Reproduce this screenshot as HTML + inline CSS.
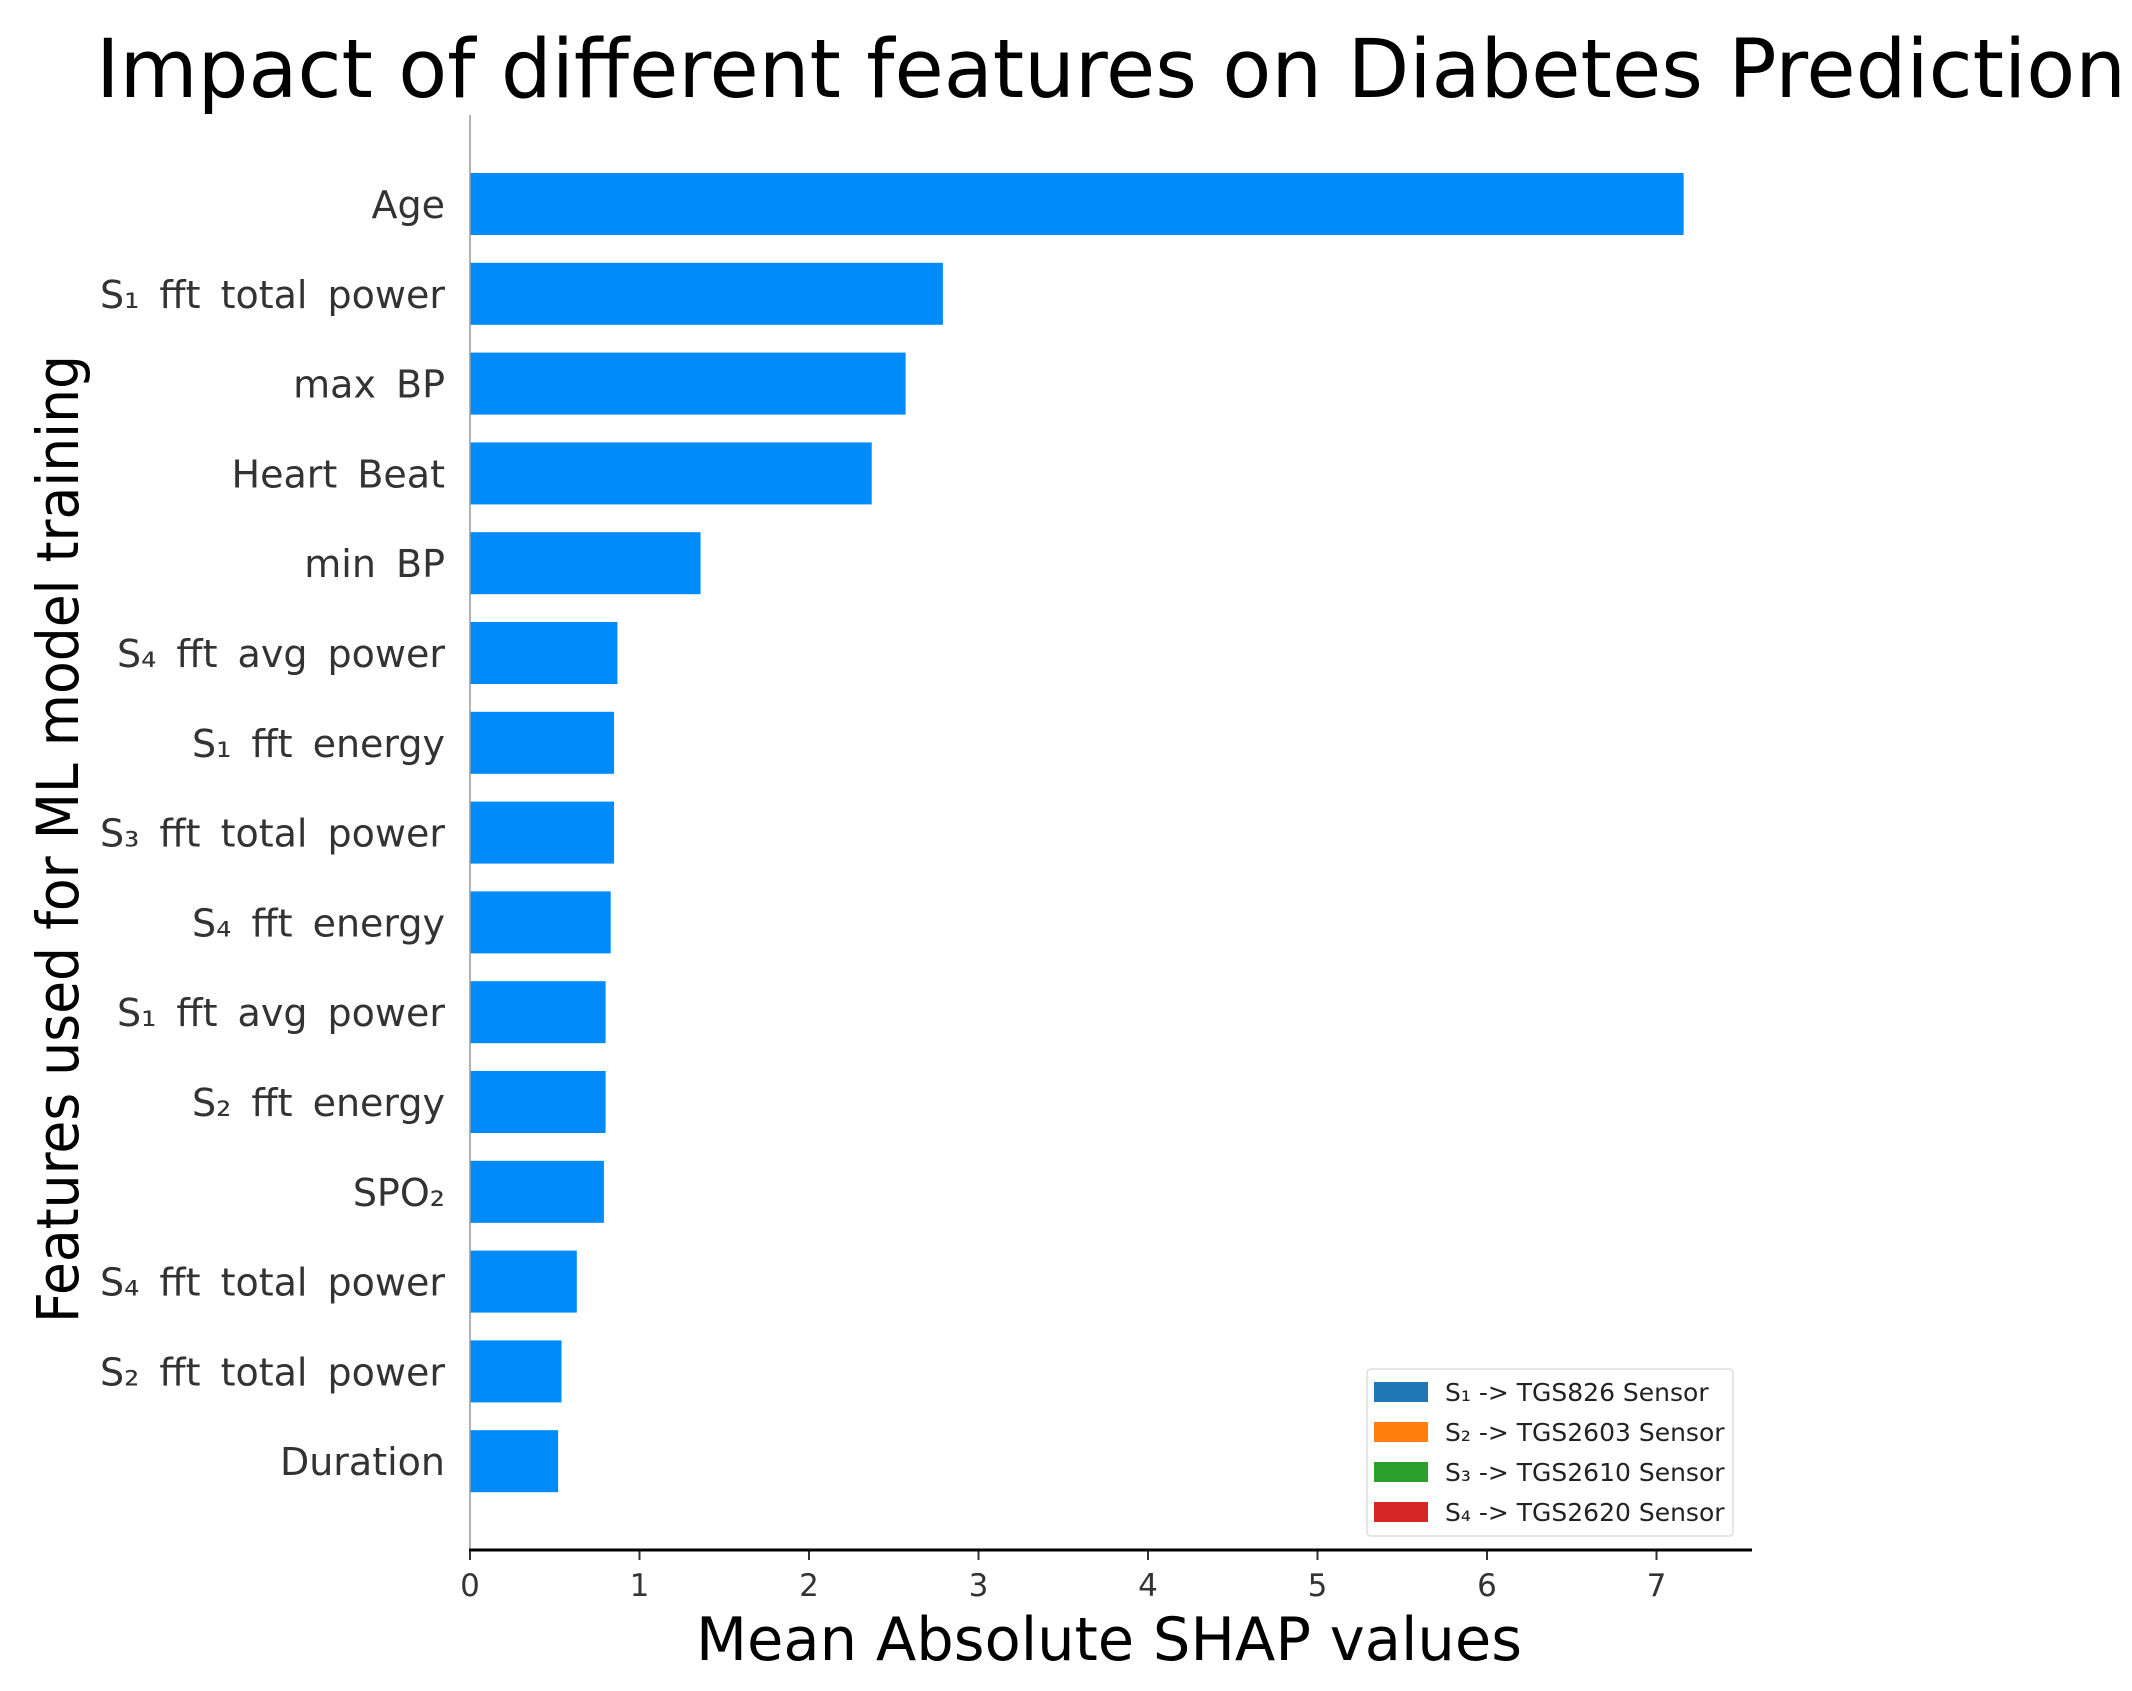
<!DOCTYPE html>
<html><head><meta charset="utf-8"><style>
html,body{margin:0;padding:0;background:#fff;}
svg{display:block;font-family:"DejaVu Sans","Liberation Sans",sans-serif;}
</style></head><body>
<svg id="chart" width="2132" height="1691" viewBox="0 0 2132 1691" xmlns="http://www.w3.org/2000/svg">
<text x="96" y="97" font-size="81" fill="#000" textLength="2030" lengthAdjust="spacingAndGlyphs">Impact of different features on Diabetes Prediction</text>
<g id="bars"></g>
<g id="ylabels"></g>
<g id="xticks"></g>
<line x1="470" y1="115" x2="470" y2="1550" stroke="#999" stroke-width="1.5"/>
<line x1="469" y1="1550" x2="1752" y2="1550" stroke="#000" stroke-width="3"/>
<text x="1109" y="1660" font-size="60" text-anchor="middle" fill="#000" textLength="826" lengthAdjust="spacingAndGlyphs">Mean Absolute SHAP values</text>
<text transform="translate(78,839) rotate(-90)" x="0" y="0" font-size="58" text-anchor="middle" fill="#000" textLength="968" lengthAdjust="spacingAndGlyphs">Features used for ML model training</text>
<g>
<rect x="1367" y="1369" width="366" height="167" rx="4" fill="#fff" stroke="#ddd" stroke-width="1.5"/>
<g id="legend-entries"></g>
</g>
</svg>
<script>
const categories = ["Age","S₁ fft total power","max BP","Heart Beat","min BP","S₄ fft avg power","S₁ fft energy","S₃ fft total power","S₄ fft energy","S₁ fft avg power","S₂ fft energy","SPO₂","S₄ fft total power","S₂ fft total power","Duration"];
const values = [7.16,2.79,2.57,2.37,1.36,0.87,0.85,0.85,0.83,0.80,0.80,0.79,0.63,0.54,0.52];
const xTicks = [0,1,2,3,4,5,6,7];
const legendLabels = ["S₁ -> TGS826 Sensor","S₂ -> TGS2603 Sensor","S₃ -> TGS2610 Sensor","S₄ -> TGS2620 Sensor"];
const legendColors = ["#1f77b4","#ff7f0e","#2ca02c","#d62728"];

const NS="http://www.w3.org/2000/svg";
const x0=470, unit=169.5;
const xScale=v=>x0+v*unit;
const yScale=i=>204+i*89.8;
const barH=62;
const bars=document.getElementById('bars');
const yl=document.getElementById('ylabels');
categories.forEach((c,i)=>{
  const r=document.createElementNS(NS,'rect');
  
  
  r.setAttribute('x',xScale(0));
  r.setAttribute('y',yScale(i)-barH/2);
  r.setAttribute('width',xScale(values[i])-xScale(0));
  r.setAttribute('height',barH);
  r.setAttribute('fill','#008bfb');
  bars.appendChild(r);
  const t=document.createElementNS(NS,'text');
  
  
  t.setAttribute('x',445);
  t.setAttribute('y',yScale(i)+14);
  t.setAttribute('font-size','38');
  t.setAttribute('text-anchor','end');
  t.setAttribute('fill','#333');
  t.setAttribute('word-spacing','8');
  t.textContent=c;
  yl.appendChild(t);
});
const xt=document.getElementById('xticks');
xTicks.forEach(v=>{
  const l=document.createElementNS(NS,'line');
  
  
  l.setAttribute('x1',xScale(v));l.setAttribute('x2',xScale(v));
  l.setAttribute('y1',1550);l.setAttribute('y2',1560);
  l.setAttribute('stroke','#333');l.setAttribute('stroke-width','2');
  xt.appendChild(l);
  const t=document.createElementNS(NS,'text');
  
  
  t.setAttribute('x',xScale(v));t.setAttribute('y',1596);
  t.setAttribute('font-size','31');t.setAttribute('text-anchor','middle');
  t.setAttribute('fill','#333');
  t.textContent=v;
  xt.appendChild(t);
});
const le=document.getElementById('legend-entries');
legendLabels.forEach((s,i)=>{
  const y=1392+i*40;
  const r=document.createElementNS(NS,'rect');
  
  
  r.setAttribute('x',1374);r.setAttribute('y',y-10);
  r.setAttribute('width',54);r.setAttribute('height',20);
  r.setAttribute('fill',legendColors[i]);
  le.appendChild(r);
  const t=document.createElementNS(NS,'text');
  
  
  t.setAttribute('x',1445);t.setAttribute('y',y+9);
  t.setAttribute('font-size','25');t.setAttribute('fill','#222');
  t.textContent=s;
  le.appendChild(t);
});
</script>
</body></html>
